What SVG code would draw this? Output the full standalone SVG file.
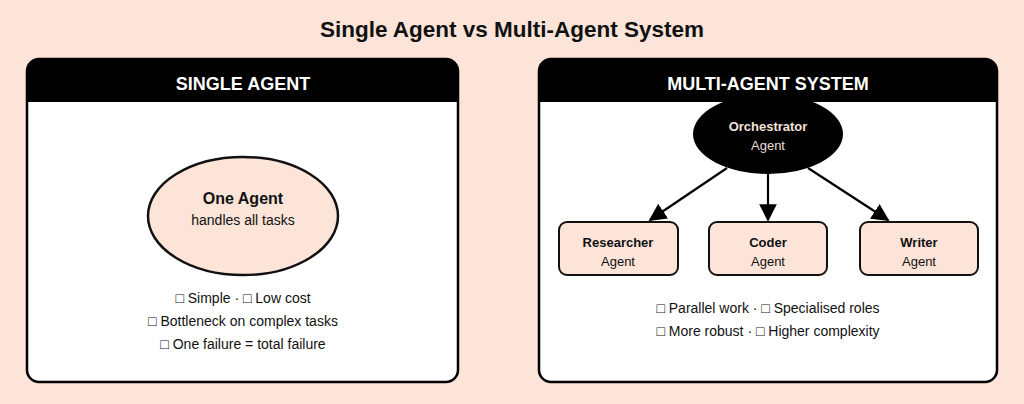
<svg xmlns="http://www.w3.org/2000/svg" width="1024" height="404" viewBox="0 0 1024 404">
<style>
text{font-family:"Liberation Sans",Arial,sans-serif;text-anchor:middle;fill:#111}
.panel{fill:#fff;stroke:#000;stroke-width:2.5}
.hd{fill:#fff;font-weight:bold;font-size:18px}
.b{font-weight:bold;font-size:13px}
.s{font-size:13px}
.l{font-size:14px}
.box{fill:#fce4d8;stroke:#111;stroke-width:2}
.c{stroke:#000;stroke-width:2.2;fill:none;marker-end:url(#ah)}
</style>
<defs><marker id="ah" viewBox="0 0 10 10" refX="9" refY="5" markerWidth="8" markerHeight="8" orient="auto"><path d="M0,0L10,5L0,10z" fill="#000"/></marker></defs>
<rect width="1024" height="404" fill="#fce4d8"/>
<text x="512" y="37" style="font-weight:bold;font-size:22.5px">Single Agent vs Multi-Agent System</text>
<g id="single">
<rect class="panel" x="27" y="59" width="431" height="323" rx="12"/>
<path d="M27,102V71a12,12 0 0 1 12-12H446a12,12 0 0 1 12,12V102Z" fill="#000"/>
<text class="hd" x="243" y="90">SINGLE AGENT</text>
</g>
<g id="one-agent">
<ellipse cx="243" cy="216" rx="95" ry="59" fill="#fce4d8" stroke="#111" stroke-width="2.5"/>
<text x="243" y="204" style="font-weight:bold;font-size:16px">One Agent</text>
<text x="243" y="225" class="l">handles all tasks</text>
</g>
<g id="single-notes">
<text class="l" x="243" y="303">□ Simple · □ Low cost</text>
<text class="l" x="243" y="326">□ Bottleneck on complex tasks</text>
<text class="l" x="243" y="349">□ One failure = total failure</text>
</g>
<g id="multi">
<rect class="panel" x="539" y="59" width="458" height="323" rx="12"/>
<path d="M539,102V71a12,12 0 0 1 12-12H985a12,12 0 0 1 12,12V102Z" fill="#000"/>
<text class="hd" x="768" y="90">MULTI-AGENT SYSTEM</text>
</g>
<g id="connectors">
<line class="c" x1="727" y1="168" x2="650" y2="220"/>
<line class="c" x1="768" y1="171" x2="768" y2="220"/>
<line class="c" x1="808" y1="168" x2="888" y2="220"/>
</g>
<g id="orchestrator">
<ellipse cx="768" cy="134" rx="75" ry="40" fill="#000"/>
<text x="768" y="131" class="b" style="fill:#f3e3da">Orchestrator</text>
<text x="768" y="150" class="s" style="fill:#e8dcd5">Agent</text>
</g>
<g id="researcher"><rect class="box" x="559" y="222" width="119" height="53" rx="8"/><text class="b" x="618" y="247">Researcher</text><text class="s" x="618" y="266">Agent</text></g>
<g id="coder"><rect class="box" x="709" y="222" width="118" height="53" rx="8"/><text class="b" x="768" y="247">Coder</text><text class="s" x="768" y="266">Agent</text></g>
<g id="writer"><rect class="box" x="860" y="222" width="118" height="53" rx="8"/><text class="b" x="919" y="247">Writer</text><text class="s" x="919" y="266">Agent</text></g>
<g id="multi-notes">
<text class="l" x="768" y="313">□ Parallel work · □ Specialised roles</text>
<text class="l" x="768" y="336">□ More robust · □ Higher complexity</text>
</g>
</svg>
